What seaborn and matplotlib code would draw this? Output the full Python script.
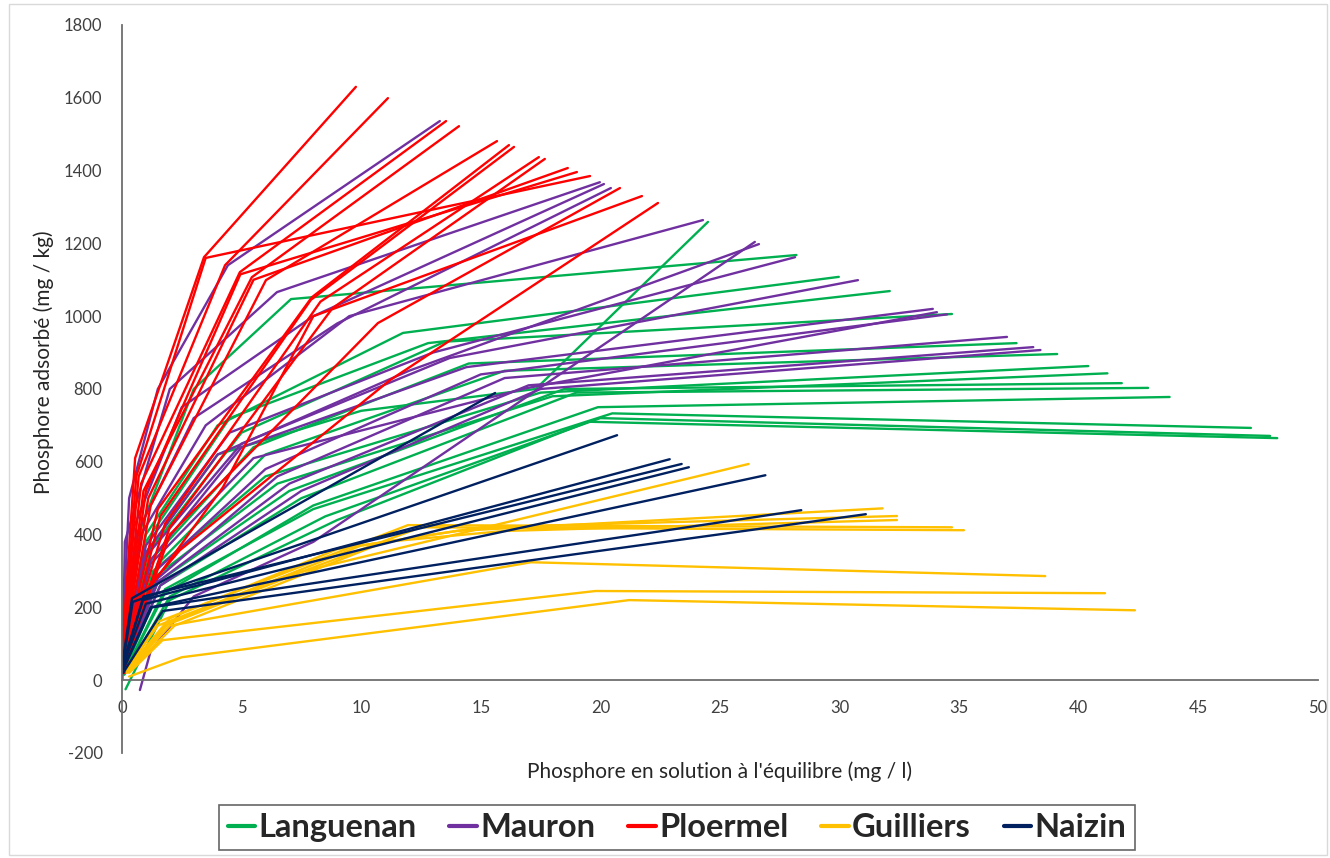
import matplotlib
matplotlib.use("Agg")
import matplotlib.pyplot as plt
from matplotlib.lines import Line2D
from matplotlib.patches import Rectangle
import seaborn as sns
import pandas as pd

# Sorption isotherms: equilibrium P in solution (mg/l) vs adsorbed P (mg/kg)
sites = ["Languenan", "Mauron", "Ploermel", "Guilliers", "Naizin"]
colors = ["#00B050", "#7030A0", "#FF0000", "#FFC000", "#002060"]

languenan_x = [
    [0.1, 1.0, 4.0, 10.0, 17.3, 24.5],
    [0.1, 0.8, 3.0, 7.07, 28.2],
    [0.1, 1.0, 4.0, 11.75, 29.97],
    [0.1, 1.0, 4.5, 12.8, 32.1],
    [0.1, 1.2, 5.0, 13.5, 34.7],
    [0.1, 1.2, 5.5, 14.5, 37.4],
    [0.1, 1.5, 6.0, 16.0, 39.1],
    [0.1, 1.3, 6.0, 17.5, 40.4],
    [0.1, 1.5, 6.5, 18.0, 41.2],
    [0.1, 1.5, 7.0, 18.5, 41.8],
    [0.1, 1.6, 7.5, 19.0, 42.9],
    [0.1, 1.8, 8.0, 19.9, 43.8],
    [0.1, 1.8, 8.0, 20.5, 47.2],
    [0.1, 2.0, 8.5, 20.0, 48.0],
    [0.15, 2.0, 9.0, 19.5, 48.3],
]
languenan_y = [
    [60, 350, 620, 740, 800, 1259],
    [80, 420, 800, 1047, 1168],
    [70, 400, 700, 954, 1108],
    [60, 380, 720, 926, 1069],
    [50, 360, 680, 930, 1006],
    [50, 330, 640, 870, 926],
    [40, 320, 620, 850, 896],
    [40, 300, 560, 790, 863],
    [30, 290, 540, 780, 843],
    [30, 270, 520, 800, 816],
    [25, 260, 500, 790, 803],
    [20, 240, 480, 750, 778],
    [20, 250, 470, 733, 693],
    [15, 230, 450, 720, 671],
    [-25, 220, 440, 710, 665],
]

mauron_x = [
    [0.05, 0.3, 1.5, 4.43, 13.29],
    [0.02, 0.12, 2.0, 6.48, 19.98],
    [0.05, 0.5, 2.5, 8.0, 20.15],
    [0.05, 0.6, 3.0, 9.0, 20.44],
    [0.1, 0.8, 3.5, 9.5, 24.29],
    [0.75, 1.2, 3.0, 8.0, 26.46],
    [0.1, 1.0, 4.0, 12.0, 26.63],
    [0.1, 1.0, 4.5, 13.0, 28.14],
    [0.1, 1.0, 5.0, 13.7, 30.77],
    [0.1, 1.2, 5.0, 14.4, 33.9],
    [0.1, 1.2, 5.5, 16.9, 34.07],
    [0.1, 1.4, 6.0, 15.0, 34.5],
    [0.1, 1.5, 6.5, 16.0, 37.0],
    [0.1, 1.5, 7.0, 17.0, 38.1],
    [0.1, 1.6, 7.5, 17.5, 38.4],
]
mauron_y = [
    [150, 500, 800, 1140, 1536],
    [0, 380, 800, 1066, 1368],
    [100, 420, 750, 1000, 1363],
    [90, 400, 720, 980, 1352],
    [80, 400, 700, 1000, 1264],
    [-27, 80, 230, 380, 1204],
    [60, 350, 620, 850, 1198],
    [70, 370, 680, 900, 1162],
    [60, 340, 650, 885, 1099],
    [55, 330, 640, 860, 1020],
    [50, 320, 610, 802, 1011],
    [50, 300, 580, 840, 1005],
    [40, 280, 560, 830, 943],
    [40, 270, 540, 810, 915],
    [35, 260, 520, 800, 907],
]

ploermel_x = [
    [0.03, 0.55, 3.43, 9.78],
    [0.03, 0.7, 4.31, 11.12],
    [0.04, 0.8, 4.93, 13.55],
    [0.05, 0.9, 5.43, 14.09],
    [0.05, 1.2, 6.02, 15.68],
    [0.06, 1.5, 7.94, 16.18],
    [0.06, 1.6, 7.9, 16.39],
    [0.07, 1.8, 8.3, 17.43],
    [0.07, 2.0, 8.8, 17.68],
    [0.05, 1.1, 5.5, 18.64],
    [0.05, 1.0, 4.95, 19.02],
    [0.03, 0.6, 3.5, 19.57],
    [0.1, 2.0, 10.7, 20.82],
    [0.1, 1.17, 4.22, 8.0, 21.74],
    [0.1, 0.9, 2.42, 11.2, 22.41],
]
ploermel_y = [
    [100, 610, 1162, 1630],
    [90, 560, 1140, 1599],
    [80, 540, 1121, 1536],
    [80, 520, 1107, 1522],
    [60, 480, 1099, 1481],
    [60, 470, 1052, 1470],
    [50, 450, 1045, 1465],
    [50, 430, 1040, 1437],
    [45, 420, 1022, 1432],
    [70, 500, 1100, 1407],
    [70, 520, 1115, 1396],
    [80, 560, 1160, 1385],
    [40, 400, 981, 1352],
    [30, 255, 530, 1000, 1330],
    [20, 240, 357, 824, 1311],
]

guilliers_x = [
    [0.2, 1.5, 7.0, 26.2],
    [0.2, 2.0, 9.0, 14.0, 31.8],
    [0.2, 2.0, 10.0, 15.0, 32.4],
    [0.2, 2.2, 11.0, 16.0, 32.4],
    [0.2, 1.5, 7.0, 11.96, 34.7],
    [0.2, 1.8, 8.0, 12.5, 35.2],
    [0.3, 2.0, 17.1, 38.6],
    [0.3, 1.7, 19.8, 41.1],
    [0.3, 2.5, 21.2, 42.35],
]
guilliers_y = [
    [30, 150, 290, 594],
    [30, 170, 360, 410, 472],
    [25, 160, 370, 420, 451],
    [20, 150, 380, 410, 440],
    [30, 160, 300, 426, 420],
    [25, 150, 310, 420, 412],
    [30, 150, 324, 286],
    [20, 110, 245, 239],
    [10, 63, 220, 192],
]

naizin_x = [
    [0.05, 0.42, 15.6],
    [0.05, 0.45, 20.7],
    [0.05, 0.88, 22.9],
    [0.05, 0.9, 23.4],
    [0.05, 1.0, 23.7],
    [0.05, 1.2, 26.9],
    [0.05, 1.25, 28.4],
    [0.05, 1.7, 31.1],
]
naizin_y = [
    [60, 225, 789],
    [50, 215, 673],
    [50, 220, 607],
    [40, 230, 594],
    [40, 210, 585],
    [30, 200, 563],
    [30, 200, 467],
    [20, 190, 456],
]

x_ticks = list(range(0, 51, 5))
y_ticks = list(range(-200, 1801, 200))

series = {
    "Languenan": (languenan_x, languenan_y),
    "Mauron": (mauron_x, mauron_y),
    "Ploermel": (ploermel_x, ploermel_y),
    "Guilliers": (guilliers_x, guilliers_y),
    "Naizin": (naizin_x, naizin_y),
}

rows = []
for site in sites:
    xs, ys = series[site]
    for i, (cx, cy) in enumerate(zip(xs, ys)):
        for order, (x, y) in enumerate(zip(cx, cy)):
            rows.append({"site": site, "curve": f"{site}-{i}", "order": order,
                         "x": x, "y": y})
df = pd.DataFrame(rows)

sns.set_style("white")
plt.rcParams["font.family"] = ["Lato", "DejaVu Sans"]
plt.rcParams["axes.unicode_minus"] = False

fig = plt.figure(figsize=(13.3, 8.58), dpi=100)
ax = fig.add_axes([0.0917, 0.1224, 0.8992, 0.8485])

sns.lineplot(data=df, x="x", y="y", hue="site", hue_order=sites,
             palette=dict(zip(sites, colors)), units="curve", estimator=None,
             sort=False, linewidth=1.7, legend=False, ax=ax)

ax.set_xlim(0, 50)
ax.set_ylim(-200, 1800)
ax.set_xticks(x_ticks)
ax.set_yticks(y_ticks)

ax.spines["top"].set_visible(False)
ax.spines["right"].set_visible(False)
ax.spines["bottom"].set_position(("data", 0))
for s in ("left", "bottom"):
    ax.spines[s].set_color("#6e6e6e")
    ax.spines[s].set_linewidth(1.3)

ax.tick_params(axis="y", direction="in", length=6, width=1.3, color="#6e6e6e",
               pad=14, labelsize=12, labelcolor="#404040")
ax.tick_params(axis="x", direction="in", length=6, width=1.3, color="#6e6e6e",
               pad=14, labelsize=12, labelcolor="#404040")

ax.set_xlabel("Phosphore en solution à l'équilibre (mg / l)", fontsize=15,
              color="#262626")
ax.set_ylabel("Phosphore adsorbé (mg / kg)", fontsize=15, color="#262626")
ax.xaxis.set_label_coords(0.5, -0.012)
ax.yaxis.set_label_coords(-0.057, 0.537)

handles = [Line2D([0], [0], color=c, lw=3) for c in colors]
leg = fig.legend(handles, sites, loc="center", bbox_to_anchor=(0.509, 0.0355),
                 ncol=5, frameon=True, fancybox=False, handlelength=0.85,
                 handletextpad=0.1, columnspacing=1.0, borderpad=0.25,
                 prop={"family": "Lato", "weight": "bold", "size": 23.5})
leg.get_frame().set_edgecolor("#404040")
leg.get_frame().set_linewidth(1.2)

# light outer frame around the whole chart area
fig.patches.append(Rectangle((0.007, 0.004), 0.991, 0.991, transform=fig.transFigure,
                             fill=False, edgecolor="#d9d9d9", linewidth=1))

fig.savefig("out.png", dpi=100)
